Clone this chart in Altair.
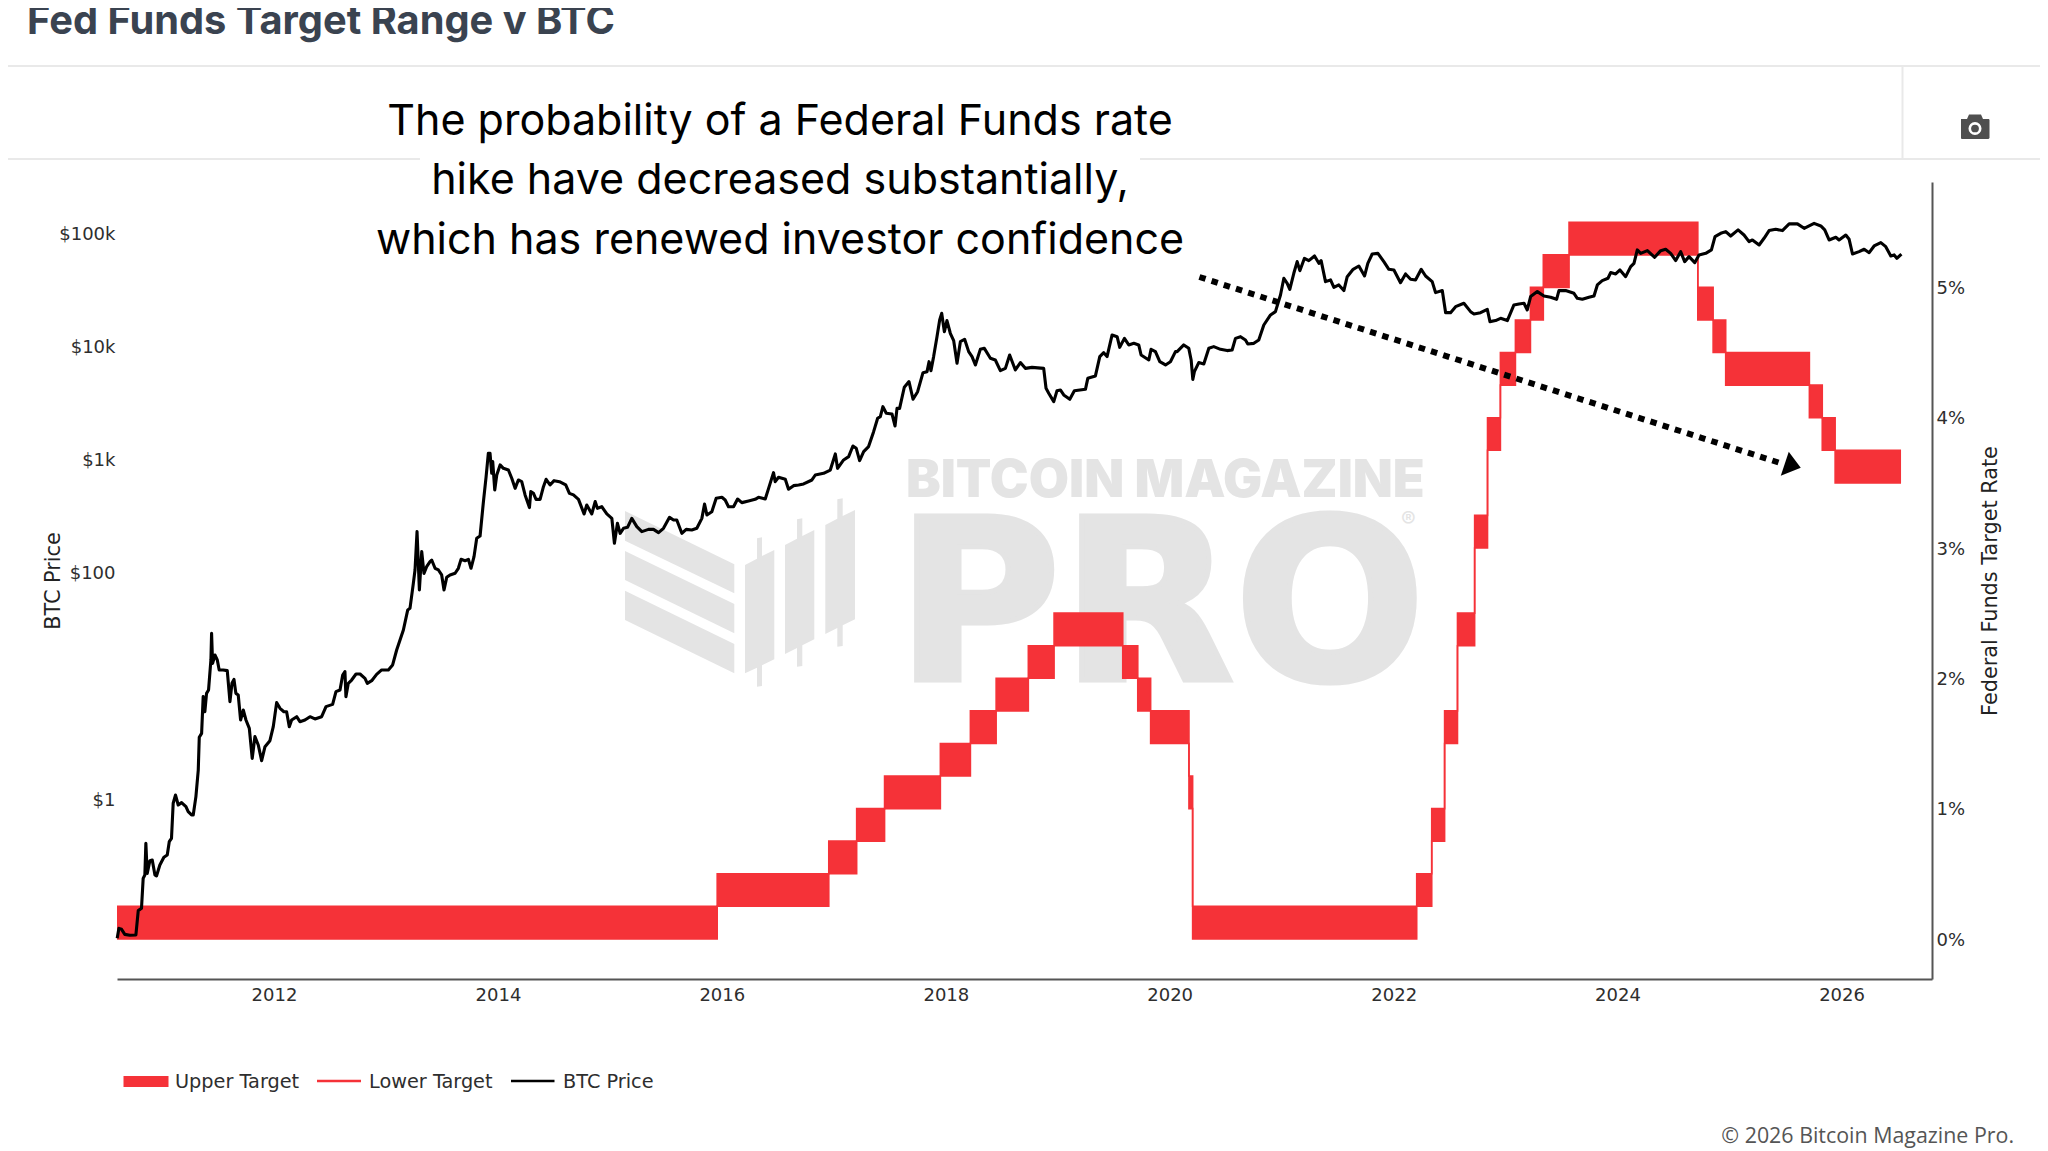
import altair as alt
import pandas as pd

# ---------- Fed funds target range ----------
fed_dates = ["2010-08-07","2015-12-17","2016-12-15","2017-03-16","2017-06-15","2017-12-14","2018-03-22",
             "2018-06-14","2018-09-27","2018-12-20","2019-08-01","2019-09-19","2019-10-31","2020-03-04",
             "2020-03-16","2022-03-17","2022-05-05","2022-06-16","2022-07-28","2022-09-22","2022-11-03",
             "2022-12-15","2023-02-02","2023-03-23","2023-05-04","2023-07-27","2024-09-19","2024-11-08",
             "2024-12-19","2025-09-18","2025-10-30","2025-12-11","2026-07-14"]
fed_lower = [0,0.25,0.5,0.75,1.0,1.25,1.5,1.75,2.0,2.25,2.0,1.75,1.5,1.0,0,0.25,0.75,1.5,2.25,3.0,3.75,
             4.25,4.5,4.75,5.0,5.25,4.75,4.5,4.25,4.0,3.75,3.5,3.5]
fed_upper = [0.25,0.5,0.75,1.0,1.25,1.5,1.75,2.0,2.25,2.5,2.25,2.0,1.75,1.25,0.25,0.5,1.0,1.75,2.5,3.25,4.0,
             4.5,4.75,5.0,5.25,5.5,5.0,4.75,4.5,4.25,4.0,3.75,3.75]

# ---------- BTC price (decimal year, log10 of USD) ----------
btc_year = [
 2010.600,2010.615,2010.639,2010.668,2010.713,2010.767,2010.788,2010.817,2010.832,2010.847,2010.856,2010.868,
 2010.892,2010.913,2010.937,2010.951,2010.981,2011.017,2011.047,2011.065,2011.085,2011.100,2011.121,2011.145,
 2011.175,2011.214,2011.234,2011.264,2011.279,2011.303,2011.324,2011.333,2011.354,2011.368,2011.383,2011.398,
 2011.416,2011.437,2011.443,2011.452,2011.473,2011.494,2011.511,2011.547,2011.583,2011.607,2011.625,2011.643,
 2011.660,2011.681,2011.702,2011.726,2011.750,2011.780,2011.806,2011.830,2011.860,2011.890,2011.920,2011.964,
 2011.994,2012.024,2012.054,2012.089,2012.113,2012.137,2012.158,2012.203,2012.232,2012.277,2012.322,2012.366,
 2012.426,2012.465,2012.524,2012.554,2012.590,2012.614,2012.634,2012.643,2012.664,2012.694,2012.733,2012.769,
 2012.813,2012.834,2012.873,2012.917,2012.962,2013.022,2013.060,2013.096,2013.156,2013.195,2013.215,2013.245,
 2013.260,2013.278,2013.299,2013.320,2013.340,2013.364,2013.394,
 2013.409,2013.439,2013.469,2013.498,2013.519,2013.543,2013.573,2013.618,2013.647,2013.671,2013.707,2013.737,
 2013.760,2013.787,2013.811,2013.841,2013.871,2013.895,2013.915,2013.930,2013.945,2013.954,2013.972,2013.990,
 2014.020,2014.049,2014.094,2014.124,2014.154,2014.183,2014.213,2014.243,2014.282,2014.294,2014.318,2014.341,
 2014.377,2014.407,2014.431,2014.466,2014.502,2014.550,2014.606,2014.639,2014.675,2014.720,2014.770,2014.794,
 2014.839,2014.869,2014.889,2014.928,2014.973,2015.018,2015.041,2015.068,2015.092,2015.122,2015.158,2015.196,
 2015.241,2015.286,2015.345,2015.390,2015.435,2015.479,2015.533,2015.569,2015.598,2015.643,2015.682,2015.732,
 2015.777,2015.822,2015.846,2015.867,2015.911,2015.950,2016.001,2016.030,2016.060,2016.105,2016.141,2016.179,
 2016.239,2016.298,2016.328,2016.388,2016.418,2016.462,2016.477,2016.507,2016.567,2016.596,2016.641,2016.686,
 2016.731,2016.805,2016.835,2016.909,2016.969,2017.014,2017.034,2017.088,2017.133,2017.171,2017.201,2017.231,
 2017.267,2017.311,2017.356,2017.392,2017.416,2017.439,2017.469,2017.520,2017.547,2017.565,2017.588,2017.630,
 2017.672,2017.708,2017.749,2017.797,2017.833,2017.851,2017.868,2017.892,2017.922,2017.946,2017.964,2017.988,
 2018.011,2018.041,2018.071,2018.101,2018.131,2018.169,2018.205,2018.235,2018.265,2018.309,2018.345,2018.399,
 2018.443,2018.488,2018.533,2018.571,2018.622,2018.667,2018.711,2018.771,2018.875,2018.896,2018.920,2018.965,
 2018.994,2019.024,2019.054,2019.108,2019.149,2019.248,2019.269,2019.337,2019.376,2019.411,2019.441,2019.486,
 2019.531,2019.554,2019.596,2019.635,2019.680,2019.724,2019.745,2019.814,2019.834,2019.873,2019.912,2019.963,
 2020.007,2020.052,
 2020.067,2020.126,2020.171,2020.192,2020.207,2020.221,2020.260,2020.305,2020.350,2020.394,2020.454,2020.513,
 2020.558,2020.588,2020.633,2020.677,2020.698,2020.752,2020.796,2020.841,2020.901,2020.945,2020.990,2021.020,
 2021.050,2021.073,2021.109,2021.139,2021.163,2021.204,2021.243,2021.294,2021.333,2021.353,2021.392,2021.437,
 2021.467,2021.511,2021.556,2021.586,2021.639,2021.690,2021.741,2021.770,2021.809,2021.860,2021.913,2021.958,
 2022.003,2022.062,2022.107,2022.152,2022.196,2022.247,2022.286,2022.345,2022.375,2022.435,2022.465,2022.509,
 2022.554,2022.628,2022.688,2022.718,2022.777,2022.837,2022.861,2022.911,2022.956,2023.016,2023.075,2023.120,
 2023.165,2023.194,2023.224,2023.284,2023.343,2023.403,
 2023.456,2023.477,2023.537,2023.611,2023.641,2023.686,2023.745,2023.790,2023.820,2023.864,2023.915,2023.939,
 2023.984,2024.022,2024.073,2024.118,2024.147,2024.177,2024.207,2024.267,2024.332,2024.386,2024.430,2024.475,
 2024.520,2024.564,2024.600,2024.639,2024.690,2024.728,2024.788,2024.839,2024.871,2024.922,2024.967,2025.011,
 2025.077,2025.130,2025.175,2025.205,2025.265,2025.309,2025.354,2025.413,2025.473,2025.533,2025.607,2025.667,
 2025.756,2025.816,2025.851,2025.890,2025.950,2025.979,2026.039,2026.069,2026.099,2026.158,2026.203,2026.248,
 2026.292,2026.352,2026.396,2026.441,2026.471,2026.495,2026.536]
btc_log10 = [
 -1.231,-1.143,-1.151,-1.196,-1.204,-1.201,-0.986,-0.966,-0.701,-0.671,-0.392,-0.657,
 -0.545,-0.539,-0.671,-0.680,-0.583,-0.515,-0.495,-0.377,-0.347,-0.038,0.035,-0.053,
 -0.032,-0.068,-0.112,-0.141,-0.141,0.021,0.256,0.545,0.580,0.904,0.771,0.933,
 0.963,1.228,1.463,1.198,1.272,1.228,1.140,1.140,1.134,0.860,1.022,1.057,
 0.933,0.919,0.698,0.786,0.698,0.624,0.359,0.551,0.477,0.339,0.462,0.515,
 0.639,0.851,0.801,0.771,0.771,0.639,0.698,0.727,0.683,0.698,0.727,0.707,
 0.727,0.816,0.836,0.948,0.963,1.095,1.125,0.904,1.022,1.051,1.104,1.104,
 1.066,1.022,1.045,1.101,1.140,1.140,1.184,1.316,1.493,1.670,1.684,1.905,
 2.023,2.362,1.846,2.185,1.993,2.052,2.097,
 2.111,2.038,2.023,1.979,1.846,1.958,1.979,1.994,2.038,2.117,2.105,2.117,
 2.038,2.141,2.303,2.323,2.627,2.847,3.054,3.054,2.877,2.980,2.730,2.862,
 2.951,2.921,2.906,2.833,2.744,2.818,2.803,2.686,2.574,2.715,2.700,2.647,
 2.647,2.759,2.824,2.774,2.812,2.803,2.774,2.700,2.686,2.647,2.518,2.597,
 2.518,2.627,2.568,2.582,2.518,2.479,2.259,2.435,2.347,2.391,2.400,2.479,
 2.406,2.362,2.382,2.382,2.353,2.391,2.488,2.465,2.465,2.347,2.382,2.376,
 2.391,2.479,2.606,2.509,2.538,2.656,2.665,2.641,2.582,2.582,2.650,2.618,
 2.632,2.647,2.665,2.650,2.744,2.883,2.803,2.842,2.824,2.736,2.768,2.774,
 2.783,2.818,2.862,2.877,2.906,3.048,2.921,2.995,3.024,3.118,3.098,2.989,
 3.068,3.113,3.245,3.363,3.378,3.466,3.407,3.401,3.295,3.451,3.451,3.637,
 3.687,3.531,3.598,3.766,3.775,3.863,3.784,3.908,4.084,4.231,4.290,4.128,
 4.226,4.114,4.049,3.849,4.040,4.061,3.952,3.908,3.834,3.972,3.981,3.893,
 3.878,3.784,3.804,3.922,3.790,3.855,3.804,3.813,3.804,3.628,3.584,3.510,
 3.607,3.613,3.569,3.531,3.607,3.619,3.716,3.737,3.908,3.943,3.908,4.099,
 4.084,3.990,4.069,4.011,4.025,4.011,3.922,3.878,3.972,3.952,3.863,3.834,
 3.863,3.952,
 3.952,4.011,3.981,3.878,3.707,3.775,3.855,3.843,3.981,3.996,3.972,3.961,
 3.966,4.069,4.084,4.055,4.019,4.025,4.055,4.187,4.276,4.305,4.452,4.600,
 4.555,4.502,4.644,4.747,4.667,4.776,4.756,4.797,4.732,4.756,4.570,4.585,
 4.520,4.541,4.491,4.614,4.679,4.708,4.620,4.732,4.814,4.820,4.747,4.679,
 4.673,4.561,4.638,4.591,4.585,4.679,4.620,4.570,4.473,4.491,4.296,4.296,
 4.349,4.379,4.305,4.284,4.296,4.326,4.217,4.226,4.246,4.226,4.364,4.373,
 4.379,4.320,4.438,4.482,4.443,4.432,
 4.414,4.491,4.491,4.467,4.423,4.414,4.432,4.443,4.541,4.579,4.600,4.650,
 4.638,4.673,4.614,4.703,4.732,4.850,4.820,4.844,4.785,4.844,4.856,4.820,
 4.756,4.835,4.747,4.791,4.738,4.806,4.820,4.850,4.968,4.997,5.012,4.973,
 5.027,4.982,4.923,4.938,4.894,4.953,5.021,5.032,5.021,5.080,5.080,5.041,
 5.085,5.062,5.027,4.938,4.962,4.938,4.982,4.944,4.814,4.835,4.856,4.826,
 4.885,4.915,4.879,4.797,4.806,4.776,4.814]

# ---------- dotted arrow (date, rate on the right axis) ----------
arrow_dates = ["2020-04-07", "2025-06-24"]
arrow_rates = [5.08, 3.645]

# ---------- text ----------
annotation_lines = ["The probability of a Federal Funds rate",
                    "hike have decreased substantially,",
                    "which has renewed investor confidence"]
legend_labels = ["Upper Target", "Lower Target", "BTC Price"]

RED = "#f53238"
WM = "#e4e4e4"
BAR = "#e9e9e9"
AXC = "#555555"
TXT = "#2e2e2e"
TICKFONT = "DejaVu Sans"

# page pixel -> plot pixel
L, T = 117, 182
W, H = 1815, 797
def px(v): return v - L
def py(v): return v - T

btc = pd.DataFrame({
    "date": [pd.Timestamp("2012-01-01") + pd.Timedelta(days=(y - 2012) * 365.25) for y in btc_year],
    "price": [10 ** v for v in btc_log10],
})
fed = pd.DataFrame({"date": pd.to_datetime(fed_dates), "lower": fed_lower, "upper": fed_upper})
arrow = pd.DataFrame({"date": pd.to_datetime(arrow_dates), "rate": arrow_rates})
head = pd.DataFrame({"date": pd.to_datetime(["2025-07-16"]), "rate": [3.638]})

ms = lambda s: int(pd.Timestamp(s).value // 10**6)
x_scale = alt.Scale(domain=[ms("2010-08-07"), ms("2026-10-23")])
x_axis = alt.X("date:T", scale=x_scale, title=None, axis=alt.Axis(
    format="%Y", tickCount={"interval": "year", "step": 2}, grid=False, ticks=False,
    domainColor=AXC, domainWidth=2, labelPadding=7, labelFont=TICKFONT, labelFontSize=18,
    labelColor=TXT, labelFlush=False, labelOverlap=False))
rate_scale = alt.Scale(domain=[-0.308, 5.809], nice=False, zero=False)
rate_plain = alt.Y("upper:Q", scale=rate_scale, axis=None)

def hline(x1, x2, y):
    return alt.Chart(pd.DataFrame({"k": [0]})).mark_rule(color=BAR, strokeWidth=2).encode(
        x=alt.value(px(x1)), x2=alt.value(px(x2)), y=alt.value(py(y)))

def text(s, x, y, size, font, color="#000000", align="left", weight="normal", **kw):
    return alt.Chart(pd.DataFrame({"k": [0]})).mark_text(
        font=font, fontSize=size, color=color, align=align, baseline="alphabetic",
        fontWeight=weight, **kw).encode(
        x=alt.value(px(x)), y=alt.value(py(y)), text=alt.value(s))

def poly(pts, color):
    d = "M" + " L".join(f"{px(a):.1f} {py(b):.1f}" for a, b in pts) + " Z"
    return alt.Chart(pd.DataFrame({"k": [0]})).mark_point(
        shape=d, size=4, filled=True, fill=color, stroke=None, opacity=1).encode(
        x=alt.value(0), y=alt.value(0))

# watermark logo: crop coordinates are mapped to page pixels
def wm_pts(pts):
    return [(610 + a / 3, 450 + b / 3) for a, b in pts]
logo = [
    [(45,183),(373,343),(373,430),(45,272)],
    [(45,303),(373,462),(373,550),(45,390)],
    [(45,422),(373,582),(373,670),(45,510)],
    [(405,345),(441,326),(441,265),(456,262),(456,318),(493,300),(493,628),(456,646),(456,708),(441,710),(441,653),(405,670)],
    [(525,285),(561,266),(561,208),(577,205),(577,258),(613,240),(613,568),(577,586),(577,648),(561,650),(561,594),(525,612)],
    [(646,225),(682,206),(682,148),(698,145),(698,198),(735,180),(735,508),(698,526),(698,588),(682,590),(682,534),(646,552)],
]
logo_layers = [poly(wm_pts(p), WM) for p in logo]

wm_text = [
    text("BITCOIN MAGAZINE", 906, 497, 52, "Inter", WM, weight=900),
    text("PRO", 896, 680, 225, "DejaVu Sans", WM, weight="bold", stroke=WM, strokeWidth=5),
    text("®", 1401, 527, 22, "Inter", WM),
]

frame = [
    hline(8, 2040, 66),
    hline(8, 420, 159),
    hline(1140, 2040, 159),
    alt.Chart(pd.DataFrame({"k": [0]})).mark_rule(color=BAR, strokeWidth=2).encode(
        x=alt.value(px(1902.5)), y=alt.value(py(66)), y2=alt.value(py(159))),
]

# camera icon
cam = [
    poly([(1961,119),(1967,119),(1969,114.5),(1981,114.5),(1983,119),(1989,119),(1989.5,120),(1989.5,138),(1988.5,139),(1961.5,139),(1961,138)], "#4f4f4f"),
    alt.Chart(pd.DataFrame({"k": [0]})).mark_circle(size=170, color="#ffffff", opacity=1).encode(x=alt.value(px(1975)), y=alt.value(py(128.5))),
    alt.Chart(pd.DataFrame({"k": [0]})).mark_circle(size=60, color="#4f4f4f", opacity=1).encode(x=alt.value(px(1975)), y=alt.value(py(128.5))),
]

area = alt.Chart(fed).mark_area(color=RED, interpolate="step-after", opacity=1).encode(
    x=x_axis, y=rate_plain, y2="lower:Q")
upper_line = alt.Chart(fed).mark_line(color=RED, strokeWidth=1.6, interpolate="step-after").encode(
    x=x_axis,
    y=alt.Y("upper:Q", scale=rate_scale, title="Federal Funds Target Rate", axis=alt.Axis(
        orient="right", values=[0, 1, 2, 3, 4, 5], format=".0f", labelExpr="datum.value + '%'",
        grid=False, ticks=False, domainColor=AXC, domainWidth=2, labelPadding=4, labelFont=TICKFONT,
        labelFontSize=18, labelColor=TXT, labelOffset=1.3, titleFont=TICKFONT, titleFontSize=20.8, titleFontWeight="normal",
        titleColor="#222222", titleAngle=270, titleBaseline="middle", titleX=58, labelOverlap=False)))
lower_line = alt.Chart(fed).mark_line(color=RED, strokeWidth=1.6, interpolate="step-after").encode(
    x=x_axis, y=alt.Y("lower:Q", scale=rate_scale, axis=None))

btc_line = alt.Chart(btc).mark_line(color="#000000", strokeWidth=3.1, strokeJoin="round").encode(
    x=x_axis,
    y=alt.Y("price:Q", scale=alt.Scale(type="log", domain=[0.0257, 282000], nice=False),
            title="BTC Price", axis=alt.Axis(
                orient="left", values=[1, 100, 1000, 10000, 100000],
                labelExpr="datum.value >= 1000 ? '$' + datum.value / 1000 + 'k' : '$' + datum.value",
                grid=False, ticks=False, domain=False, labelPadding=2, labelFont=TICKFONT, labelFontSize=18,
                labelColor=TXT, labelOffset=1.3, titleFont=TICKFONT, titleFontSize=20.8, titleFontWeight="normal",
                titleColor="#222222", titleBaseline="middle", titleX=-63.5, labelOverlap=False)))

arrow_line = alt.Chart(arrow).mark_line(color="#000000", strokeWidth=6, strokeDash=[6.5, 6.3]).encode(
    x=x_axis, y=alt.Y("rate:Q", scale=rate_scale, axis=None))
arrow_head = alt.Chart(head).mark_point(
    shape="M11 3 L-1 -13 L-9 11 Z", size=4, filled=True, fill="#000000", stroke=None, opacity=1).encode(
    x=x_axis, y=alt.Y("rate:Q", scale=rate_scale, axis=None))

ann = [text(s, 780, yy, 43, "Inter", "#000000", align="center")
       for s, yy in zip(annotation_lines, [135, 194, 254])]

def lrule(x1, x2, y, color, w):
    return alt.Chart(pd.DataFrame({"k": [0]})).mark_rule(color=color, strokeWidth=w).encode(
        x=alt.value(px(x1)), x2=alt.value(px(x2)), y=alt.value(py(y)))

legend = [
    alt.Chart(pd.DataFrame({"k": [0]})).mark_rect(color=RED, opacity=1).encode(
        x=alt.value(px(123.5)), x2=alt.value(px(168.5)), y=alt.value(py(1076)), y2=alt.value(py(1087))),
    lrule(317, 361, 1081, RED, 2.4),
    lrule(511, 554.5, 1081, "#000000", 2.4),
    text(legend_labels[0], 175, 1088, 19.3, TICKFONT, TXT),
    text(legend_labels[1], 369, 1088, 19.3, TICKFONT, TXT),
    text(legend_labels[2], 563, 1088, 19.3, TICKFONT, TXT),
]

copyright_text = text("© 2026 Bitcoin Magazine Pro.", 2014, 1143, 21.4, "Open Sans", "#555555", align="right")
title_text = text("Fed Funds Target Range v BTC", 27, 34, 39.8, "Inter", "#3a4350", weight=700)

chart = alt.layer(
    *logo_layers, *wm_text, *frame, *cam,
    area, upper_line, lower_line, btc_line, arrow_line, arrow_head,
    *ann, *legend, copyright_text, title_text,
).resolve_scale(y="independent").properties(
    width=W, height=H,
    padding={"left": L - 8, "top": T - 8, "right": 2040 - L - W, "bottom": 1149 - T - H},
    autosize=alt.AutoSizeParams(type="none"),
    background="#ffffff",
).configure_view(stroke=None)

chart.save("out.html", embed_options={"renderer": "svg", "actions": False})
